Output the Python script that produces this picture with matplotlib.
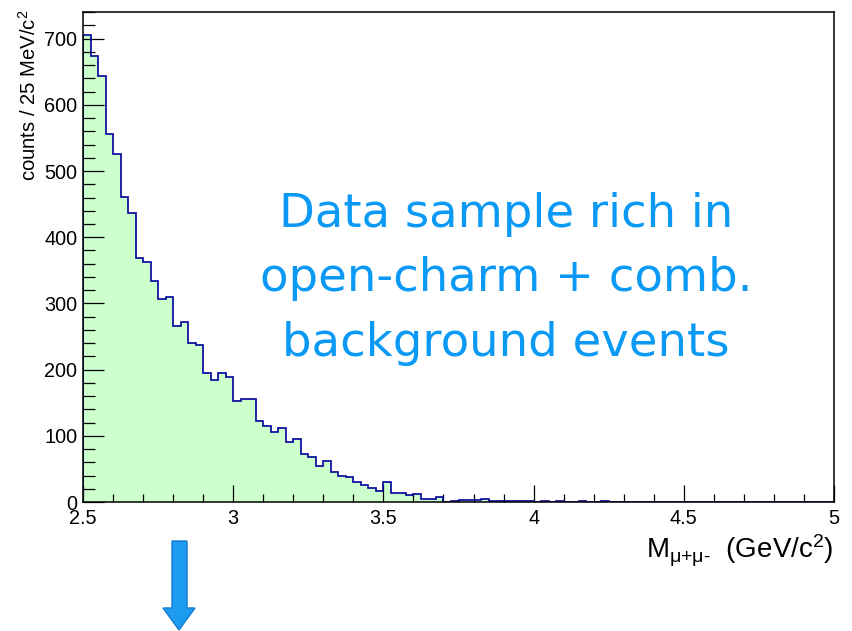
import numpy as np
import matplotlib
matplotlib.use('Agg')
import matplotlib.pyplot as plt
from matplotlib.patches import Polygon
from matplotlib.ticker import MultipleLocator

plt.rcParams['font.family'] = ['Liberation Sans', 'DejaVu Sans']
plt.rcParams['mathtext.fontset'] = 'custom'
plt.rcParams['mathtext.rm'] = 'Liberation Sans'
plt.rcParams['mathtext.default'] = 'regular'

# dimuon invariant mass spectrum, 25 MeV bins from 2.5 to 5 GeV
mass_lo, mass_hi, bin_width = 2.5, 5.0, 0.025
counts = [
    705, 674, 644, 556, 525, 461, 437, 369, 363, 334,
    307, 310, 266, 272, 240, 237, 195, 184, 195, 189,
    152, 155, 156, 123, 115, 105, 112, 90, 95, 72,
    68, 54, 62, 45, 40, 38, 30, 26, 21, 17,
    30, 13, 14, 10, 12, 4, 4, 7, 0, 2,
    3, 3, 3, 4, 1, 2, 1, 1, 2, 1,
    0, 1, 0, 1, 0, 0, 1, 0, 0, 1,
] + [0] * 30

x_title = r'M$_{μ{+}μ\text{-}}$  (GeV/c$^{2}$)'
y_title = 'counts / 25 MeV/c$^{2}$'
note_lines = ['Data sample rich in', 'open-charm + comb.', 'background events']

edges = np.linspace(mass_lo, mass_hi, len(counts) + 1)
counts = np.array(counts)

fig = plt.figure(figsize=(8.52, 6.31), dpi=100)
ax = fig.add_axes([83 / 852, 1 - 502 / 631, 751 / 852, 490 / 631])

ax.stairs(counts, edges, fill=True, color='#ccffcc', zorder=1)
ax.stairs(counts, edges, color='#000099', linewidth=1.2, zorder=2)

ax.set_xlim(mass_lo, mass_hi)
ax.set_ylim(0, 1.05 * counts.max())

ax.xaxis.set_major_locator(MultipleLocator(0.5))
ax.xaxis.set_minor_locator(MultipleLocator(0.1))
ax.yaxis.set_major_locator(MultipleLocator(100))
ax.yaxis.set_minor_locator(MultipleLocator(20))
ax.xaxis.set_major_formatter(lambda v, p: f'{v:g}')

ax.tick_params(axis='both', which='both', direction='in', width=0.9,
               color='black', labelsize=14.3)
ax.tick_params(axis='y', which='major', length=15, pad=4)
ax.tick_params(axis='y', which='minor', length=8.5)
ax.tick_params(axis='x', which='major', length=12, pad=5)
ax.tick_params(axis='x', which='minor', length=6)

for s in ax.spines.values():
    s.set_linewidth(1.1)
    s.set_zorder(5)

ax.set_xlabel(x_title, fontsize=20, loc='right')
ax.xaxis.set_label_coords(1.0, -0.063)
ax.xaxis.label.set_va('top')
ax.set_ylabel(y_title, fontsize=14.6, loc='top')
ax.yaxis.set_label_coords(-0.057, 1.005)

# annotation in the empty part of the plot
for line, ybase in zip(note_lines, [227, 291, 356]):
    fig.text(506 / 852, 1 - ybase / 631, line, ha='center', va='baseline',
             fontsize=33.5, color='#0a9af5', family='DejaVu Sans')

# arrow pointing down below the axis
arrow_px = [(172, 541), (187, 541), (187, 608), (195, 608), (179, 630),
            (163, 608), (172, 608)]
arrow = Polygon([(x / 852, 1 - y / 631) for x, y in arrow_px], closed=True,
                transform=fig.transFigure, facecolor='#1d9bf0',
                edgecolor='#1479d0', linewidth=1.0)
fig.patches.append(arrow)

fig.savefig('out.png', dpi=100)
